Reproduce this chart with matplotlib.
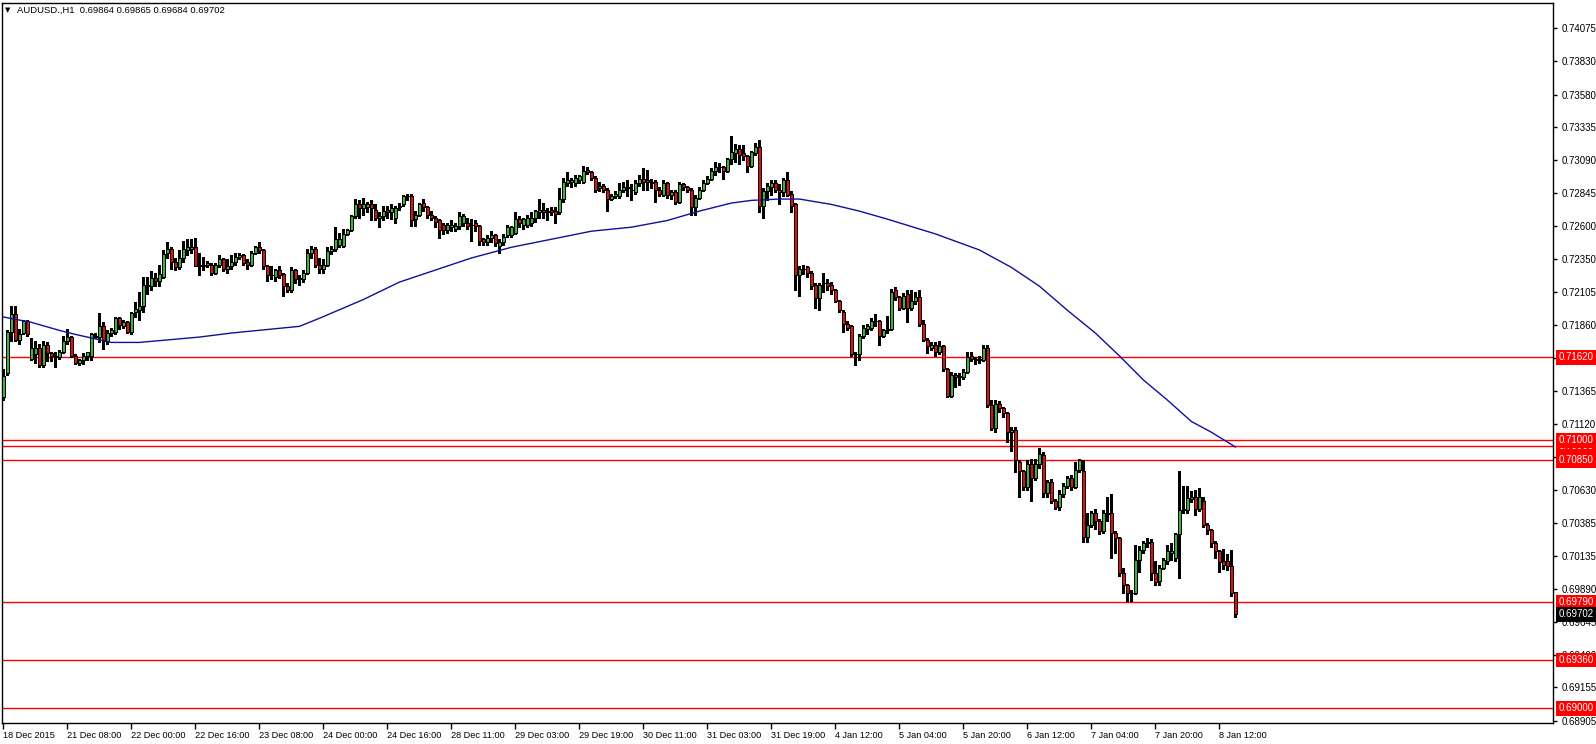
import matplotlib
matplotlib.use('Agg')
import matplotlib.pyplot as plt
import matplotlib.transforms as mtransforms

plt.rcParams['font.family'] = ['Liberation Sans', 'DejaVu Sans']

symbol = 'AUDUSD.,H1'

# hourly candles, 18 Dec 2015 16:00 -> 8 Jan 2016 16:00
opens = [
    .7132, .7150, .7181, .7194, .7175, .7180, .7189, .7161, .7164, .7169,
    .7156, .7171, .7165, .7163, .7162, .7166, .7174, .7177, .7163, .7158,
    .7160, .7163, .7163, .7178, .7177, .7185, .7174, .7180, .7181, .7191,
    .7185, .7188, .7181, .7196, .7197, .7200, .7215, .7215, .7221, .7219,
    .7222, .7240, .7243, .7233, .7229, .7236, .7242, .7243, .7244, .7230,
    .7231, .7231, .7231, .7225, .7231, .7235, .7228, .7230, .7233, .7237,
    .7238, .7233, .7231, .7240, .7244, .7242, .7230, .7223, .7222, .7227,
    .7224, .7215, .7212, .7227, .7221, .7220, .7225, .7240, .7243, .7231,
    .7228, .7231, .7241, .7243, .7246, .7245, .7254, .7257, .7267, .7276,
    .7273, .7274, .7276, .7272, .7266, .7267, .7272, .7270, .7266, .7274,
    .7276, .7282, .7282, .7265, .7268, .7277, .7274, .7268, .7266, .7264,
    .7261, .7257, .7259, .7258, .7260, .7262, .7262, .7261, .7262, .7260,
    .7250, .7248, .7251, .7253, .7245, .7248, .7253, .7253, .7255, .7265,
    .7261, .7261, .7262, .7266, .7270, .7272, .7271, .7272, .7271, .7270,
    .7280, .7292, .7293, .7292, .7294, .7293, .7302, .7300, .7296, .7288,
    .7290, .7287, .7280, .7282, .7282, .7287, .7289, .7287, .7285, .7292,
    .7295, .7294, .7293, .7293, .7287, .7283, .7292, .7283, .7285, .7278,
    .7291, .7289, .7287, .7274, .7281, .7287, .7292, .7295, .7301, .7304,
    .7304, .7301, .7310, .7314, .7317, .7314, .7312, .7305, .7314, .7319,
    .7275, .7286, .7289, .7292, .7287, .7285, .7294, .7284, .7276, .7223,
    .7228, .7229, .7225, .7216, .7206, .7217, .7217, .7216, .7212, .7204,
    .7196, .7187, .7185, .7164, .7164, .7178, .7183, .7184, .7189, .7189,
    .7178, .7182, .7183, .7212, .7207, .7199, .7209, .7199, .7204, .7207,
    .7187, .7175, .7169, .7171, .7166, .7170, .7153, .7133, .7149, .7147,
    .7147, .7151, .7163, .7161, .7160, .7160, .7169, .7126, .7109, .7127,
    .7124, .7120, .7106, .7108, .7084, .7077, .7065, .7082, .7072, .7082,
    .7089, .7061, .7069, .7055, .7050, .7060, .7066, .7072, .7065, .7078,
    .7077, .7028, .7037, .7046, .7040, .7032, .7046, .7046, .7031, .7027,
    .7001, .6992, .6986, .6986, .7011, .7018, .7023, .7024, .7001, .6995,
    .7005, .7010, .7016, .7012, .7030, .7048, .7048, .7056, .7058, .7049,
    .7055, .7037, .7033, .7023, .7017, .7010, .7010, .7006, .69864,
]
highs = [
    .7153, .7182, .7200, .7200, .7183, .7190, .7190, .7176, .7174, .7172,
    .7174, .7173, .7166, .7166, .7167, .7178, .7183, .7178, .7164, .7161,
    .7165, .7166, .7180, .7180, .7195, .7188, .7182, .7184, .7192, .7192,
    .7190, .7189, .7196, .7203, .7211, .7222, .7222, .7226, .7225, .7231,
    .7242, .7248, .7244, .7236, .7242, .7249, .7250, .7250, .7251, .7240,
    .7237, .7234, .7232, .7232, .7238, .7236, .7235, .7238, .7240, .7240,
    .7239, .7235, .7241, .7245, .7248, .7243, .7231, .7230, .7228, .7230,
    .7225, .7217, .7229, .7228, .7223, .7227, .7243, .7245, .7244, .7236,
    .7235, .7244, .7245, .7259, .7255, .7258, .7258, .7268, .7280, .7279,
    .7281, .7278, .7279, .7276, .7270, .7275, .7275, .7276, .7275, .7277,
    .7283, .7284, .7284, .7271, .7277, .7280, .7275, .7271, .7267, .7265,
    .7262, .7262, .7264, .7262, .7270, .7269, .7266, .7265, .7264, .7261,
    .7251, .7253, .7256, .7254, .7250, .7254, .7261, .7260, .7270, .7267,
    .7266, .7268, .7270, .7272, .7280, .7277, .7273, .7274, .7274, .7288,
    .7296, .7300, .7296, .7298, .7298, .7305, .7304, .7301, .7297, .7293,
    .7291, .7288, .7284, .7286, .7292, .7293, .7294, .7291, .7294, .7298,
    .7303, .7302, .7295, .7294, .7289, .7294, .7293, .7287, .7287, .7293,
    .7292, .7290, .7288, .7283, .7289, .7294, .7297, .7303, .7308, .7307,
    .7305, .7311, .7327, .7321, .7320, .7320, .7313, .7316, .7322, .7324,
    .7288, .7292, .7294, .7294, .7291, .7296, .7300, .7286, .7277, .7230,
    .7231, .7230, .7226, .7217, .7217, .7225, .7220, .7218, .7213, .7205,
    .7197, .7189, .7186, .7166, .7179, .7186, .7187, .7191, .7194, .7190,
    .7183, .7193, .7213, .7214, .7208, .7210, .7212, .7212, .7211, .7212,
    .7190, .7176, .7173, .7173, .7174, .7171, .7154, .7151, .7150, .7150,
    .7153, .7166, .7166, .7162, .7163, .7171, .7171, .7130, .7130, .7129,
    .7125, .7121, .7110, .7110, .7085, .7078, .7085, .7086, .7086, .7094,
    .7091, .7070, .7071, .7056, .7063, .7068, .7073, .7074, .7084, .7086,
    .7085, .7046, .7047, .7049, .7041, .7048, .7058, .7060, .7032, .7028,
    .7005, .6993, .6988, .7022, .7021, .7025, .7027, .7026, .7010, .7007,
    .7012, .7022, .7023, .7031, .7077, .7066, .7066, .7062, .7063, .7064,
    .7058, .7038, .7034, .7025, .7018, .7019, .7015, .7018, .69865,
]
lows = [
    .7130, .7149, .7174, .7174, .7172, .7179, .7178, .7160, .7158, .7155,
    .7155, .7159, .7159, .7155, .7161, .7165, .7172, .7162, .7157, .7156,
    .7157, .7160, .7160, .7176, .7173, .7168, .7172, .7178, .7179, .7183,
    .7184, .7180, .7179, .7192, .7190, .7196, .7209, .7212, .7215, .7215,
    .7221, .7236, .7228, .7227, .7228, .7233, .7238, .7240, .7230, .7223,
    .7227, .7229, .7223, .7224, .7229, .7226, .7225, .7228, .7231, .7235,
    .7231, .7228, .7230, .7239, .7240, .7228, .7219, .7220, .7219, .7221,
    .7208, .7211, .7211, .7217, .7216, .7218, .7224, .7236, .7229, .7225,
    .7225, .7230, .7239, .7241, .7244, .7244, .7253, .7256, .7266, .7266,
    .7268, .7270, .7264, .7264, .7259, .7264, .7266, .7265, .7262, .7272,
    .7275, .7279, .7260, .7260, .7267, .7271, .7266, .7264, .7259, .7251,
    .7254, .7255, .7256, .7256, .7258, .7260, .7258, .7249, .7256, .7246,
    .7246, .7246, .7248, .7245, .7240, .7246, .7252, .7252, .7254, .7259,
    .7258, .7259, .7260, .7263, .7266, .7266, .7264, .7268, .7262, .7269,
    .7278, .7290, .7289, .7290, .7292, .7292, .7299, .7294, .7285, .7286,
    .7285, .7271, .7279, .7281, .7281, .7285, .7282, .7279, .7284, .7290,
    .7287, .7287, .7288, .7278, .7282, .7282, .7281, .7280, .7276, .7277,
    .7287, .7285, .7268, .7268, .7280, .7286, .7291, .7294, .7298, .7300,
    .7295, .7300, .7306, .7308, .7306, .7309, .7300, .7304, .7313, .7270,
    .7266, .7279, .7283, .7285, .7276, .7282, .7282, .7270, .7212, .7208,
    .7224, .7222, .7213, .7199, .7197, .7211, .7212, .7209, .7203, .7196,
    .7181, .7182, .7163, .7156, .7160, .7176, .7179, .7182, .7185, .7171,
    .7177, .7180, .7182, .7205, .7197, .7198, .7188, .7197, .7202, .7185,
    .7174, .7165, .7167, .7163, .7164, .7152, .7132, .7132, .7140, .7141,
    .7146, .7150, .7159, .7157, .7158, .7159, .7125, .7108, .7106, .7121,
    .7117, .7099, .7092, .7076, .7058, .7063, .7063, .7055, .7070, .7079,
    .7058, .7058, .7053, .7049, .7048, .7058, .7064, .7063, .7064, .7076,
    .7024, .7024, .7035, .7034, .7030, .7031, .7040, .7012, .7016, .6999,
    .6986, .6980, .6980, .6985, .7002, .7016, .7020, .6996, .6992, .6992,
    .7004, .7008, .7011, .7010, .6997, .7046, .7046, .7054, .7044, .7047,
    .7035, .7030, .7020, .7012, .7002, .7004, .7003, .6984, .69684,
]
closes = [
    .7148, .7181, .7194, .7175, .7179, .7189, .7179, .7169, .7169, .7156,
    .7171, .7165, .7163, .7162, .7166, .7174, .7177, .7163, .7158, .7160,
    .7163, .7166, .7179, .7177, .7185, .7174, .7180, .7182, .7191, .7186,
    .7188, .7181, .7195, .7198, .7200, .7216, .7216, .7221, .7219, .7224,
    .7239, .7243, .7233, .7229, .7236, .7243, .7244, .7244, .7230, .7231,
    .7230, .7232, .7225, .7231, .7235, .7228, .7230, .7233, .7237, .7238,
    .7232, .7231, .7240, .7244, .7242, .7230, .7223, .7223, .7227, .7223,
    .7215, .7212, .7227, .7220, .7220, .7225, .7240, .7243, .7231, .7228,
    .7231, .7241, .7243, .7250, .7250, .7254, .7257, .7267, .7276, .7273,
    .7276, .7276, .7273, .7266, .7267, .7271, .7270, .7273, .7273, .7275,
    .7282, .7282, .7264, .7268, .7276, .7274, .7268, .7266, .7263, .7257,
    .7257, .7261, .7261, .7260, .7267, .7267, .7260, .7261, .7260, .7249,
    .7248, .7251, .7253, .7247, .7248, .7252, .7259, .7259, .7265, .7262,
    .7265, .7266, .7266, .7271, .7272, .7270, .7270, .7270, .7269, .7280,
    .7293, .7294, .7294, .7296, .7297, .7301, .7300, .7296, .7287, .7290,
    .7287, .7280, .7282, .7284, .7287, .7289, .7288, .7287, .7292, .7295,
    .7293, .7293, .7292, .7287, .7284, .7292, .7283, .7285, .7278, .7291,
    .7289, .7287, .7274, .7281, .7287, .7292, .7295, .7301, .7304, .7304,
    .7301, .7310, .7315, .7317, .7313, .7312, .7305, .7315, .7319, .7275,
    .7286, .7290, .7292, .7287, .7285, .7294, .7283, .7275, .7223, .7228,
    .7228, .7225, .7215, .7206, .7216, .7217, .7215, .7212, .7204, .7197,
    .7187, .7184, .7164, .7164, .7178, .7184, .7185, .7189, .7189, .7178,
    .7182, .7183, .7211, .7207, .7199, .7208, .7199, .7204, .7207, .7187,
    .7175, .7170, .7171, .7166, .7170, .7153, .7133, .7149, .7147, .7148,
    .7151, .7162, .7161, .7160, .7161, .7169, .7126, .7109, .7127, .7124,
    .7120, .7106, .7108, .7085, .7077, .7065, .7082, .7072, .7082, .7090,
    .7061, .7069, .7055, .7050, .7060, .7066, .7072, .7065, .7078, .7085,
    .7028, .7037, .7046, .7040, .7032, .7046, .7045, .7031, .7027, .7001,
    .6992, .6986, .6986, .7011, .7018, .7023, .7024, .7001, .6994, .7005,
    .7011, .7017, .7017, .7030, .7048, .7049, .7057, .7058, .7049, .7058,
    .7037, .7033, .7023, .7017, .7009, .7007, .7006, .6986, .69702,
]

# moving average, read at some bars
ma_bars = [0, 7, 14, 18, 27, 34, 49, 57, 74, 79, 90, 99, 107, 117, 127, 137, 147,
           157, 166, 174, 182, 187, 194, 199, 207, 214, 221, 233, 244, 252, 259,
           266, 273, 279, 285, 291, 297, 302, 308]
ma_values = [.7192, .7188, .7182, .7179, .7173, .7173, .7177, .7180, .7185, .7191,
             .7205, .7218, .7226, .7236, .7244, .7250, .7256, .7259, .7264, .7271,
             .7277, .7279, .7280, .7280, .7276, .7271, .7265, .7254, .7242, .7229,
             .7215, .7197, .7180, .7163, .7145, .7130, .7114, .7106, .7095]

levels = [0.71620, 0.70960, 0.71000, 0.70850, 0.69790, 0.69360, 0.69000]

price_ticks = [0.74075, 0.73830, 0.73580, 0.73335, 0.73090, 0.72845, 0.72600,
               0.72350, 0.72105, 0.71860, 0.71615, 0.71365, 0.71120, 0.70875,
               0.70630, 0.70385, 0.70135, 0.69890, 0.69645, 0.69400, 0.69155,
               0.68905]

time_labels = ['18 Dec 2015', '21 Dec 08:00', '22 Dec 00:00', '22 Dec 16:00',
               '23 Dec 08:00', '24 Dec 00:00', '24 Dec 16:00', '28 Dec 11:00',
               '29 Dec 03:00', '29 Dec 19:00', '30 Dec 11:00', '31 Dec 03:00',
               '31 Dec 19:00', '4 Jan 12:00', '5 Jan 04:00', '5 Jan 20:00',
               '6 Jan 12:00', '7 Jan 04:00', '7 Jan 20:00', '8 Jan 12:00']
label_step = 16

W, H = 1596, 744
fig = plt.figure(figsize=(W / 100, H / 100), dpi=100)
ax = fig.add_axes([2 / W, 21 / H, 1551 / W, 720 / H])

x = list(range(len(closes)))
bottoms = [min(o, c) for o, c in zip(opens, closes)]
heights = [abs(c - o) for o, c in zip(opens, closes)]
colors = ['#3cb43c' if c >= o else '#e01010' for o, c in zip(opens, closes)]

ax.vlines(x, lows, highs, color='black', lw=0.8, zorder=2, antialiased=False)
ax.bar(x, heights, bottom=bottoms, width=0.85, color=colors, edgecolor='black',
       linewidth=0.6, zorder=3, antialiased=False)

ax.plot(ma_bars, ma_values, color='#10109a', lw=1, zorder=4)

for v in levels:
    ax.axhline(v, color='red', lw=1, zorder=1)

ax.set_xlim(-0.33, 387.4)
ax.set_ylim(0.68890, 0.74263)

# price scale on the right
ax.yaxis.tick_right()
ax.set_yticks(price_ticks)
ax.set_yticklabels([f'{v:.5f}' for v in price_ticks])
ax.tick_params(axis='y', length=3, width=1, pad=3, labelsize=7, colors='black')

ax.set_xticks([i * label_step for i in range(len(time_labels))])
ax.set_xticklabels(time_labels, ha='left')
ax.tick_params(axis='x', length=4, width=1, pad=2, labelsize=6.6)

for s in ax.spines.values():
    s.set_linewidth(1)
    s.set_color('black')

trans = mtransforms.blended_transform_factory(ax.transAxes, ax.transData)
for v in levels:
    ax.text(1.0035, v, f'{v:.5f}', transform=trans, color='white', fontsize=7,
            va='center', ha='left', clip_on=False, zorder=6,
            bbox=dict(boxstyle='square,pad=0.25', fc='red', ec='none'))
ax.text(1.0035, closes[-1], f'{closes[-1]:.5f}', transform=trans, color='white',
        fontsize=7, va='center', ha='left', clip_on=False, zorder=6,
        bbox=dict(boxstyle='square,pad=0.25', fc='black', ec='none'))

fig.text(5 / W, 1 - 10 / H, '\u25bc', fontsize=5, va='center', ha='left',
         family=['DejaVu Sans'])
fig.text(17 / W, 1 - 10 / H,
         f'{symbol}  {opens[-1]:.5f} {highs[-1]:.5f} {lows[-1]:.5f} {closes[-1]:.5f}',
         fontsize=6.8, va='center', ha='left')

fig.savefig('out.png', dpi=100)
